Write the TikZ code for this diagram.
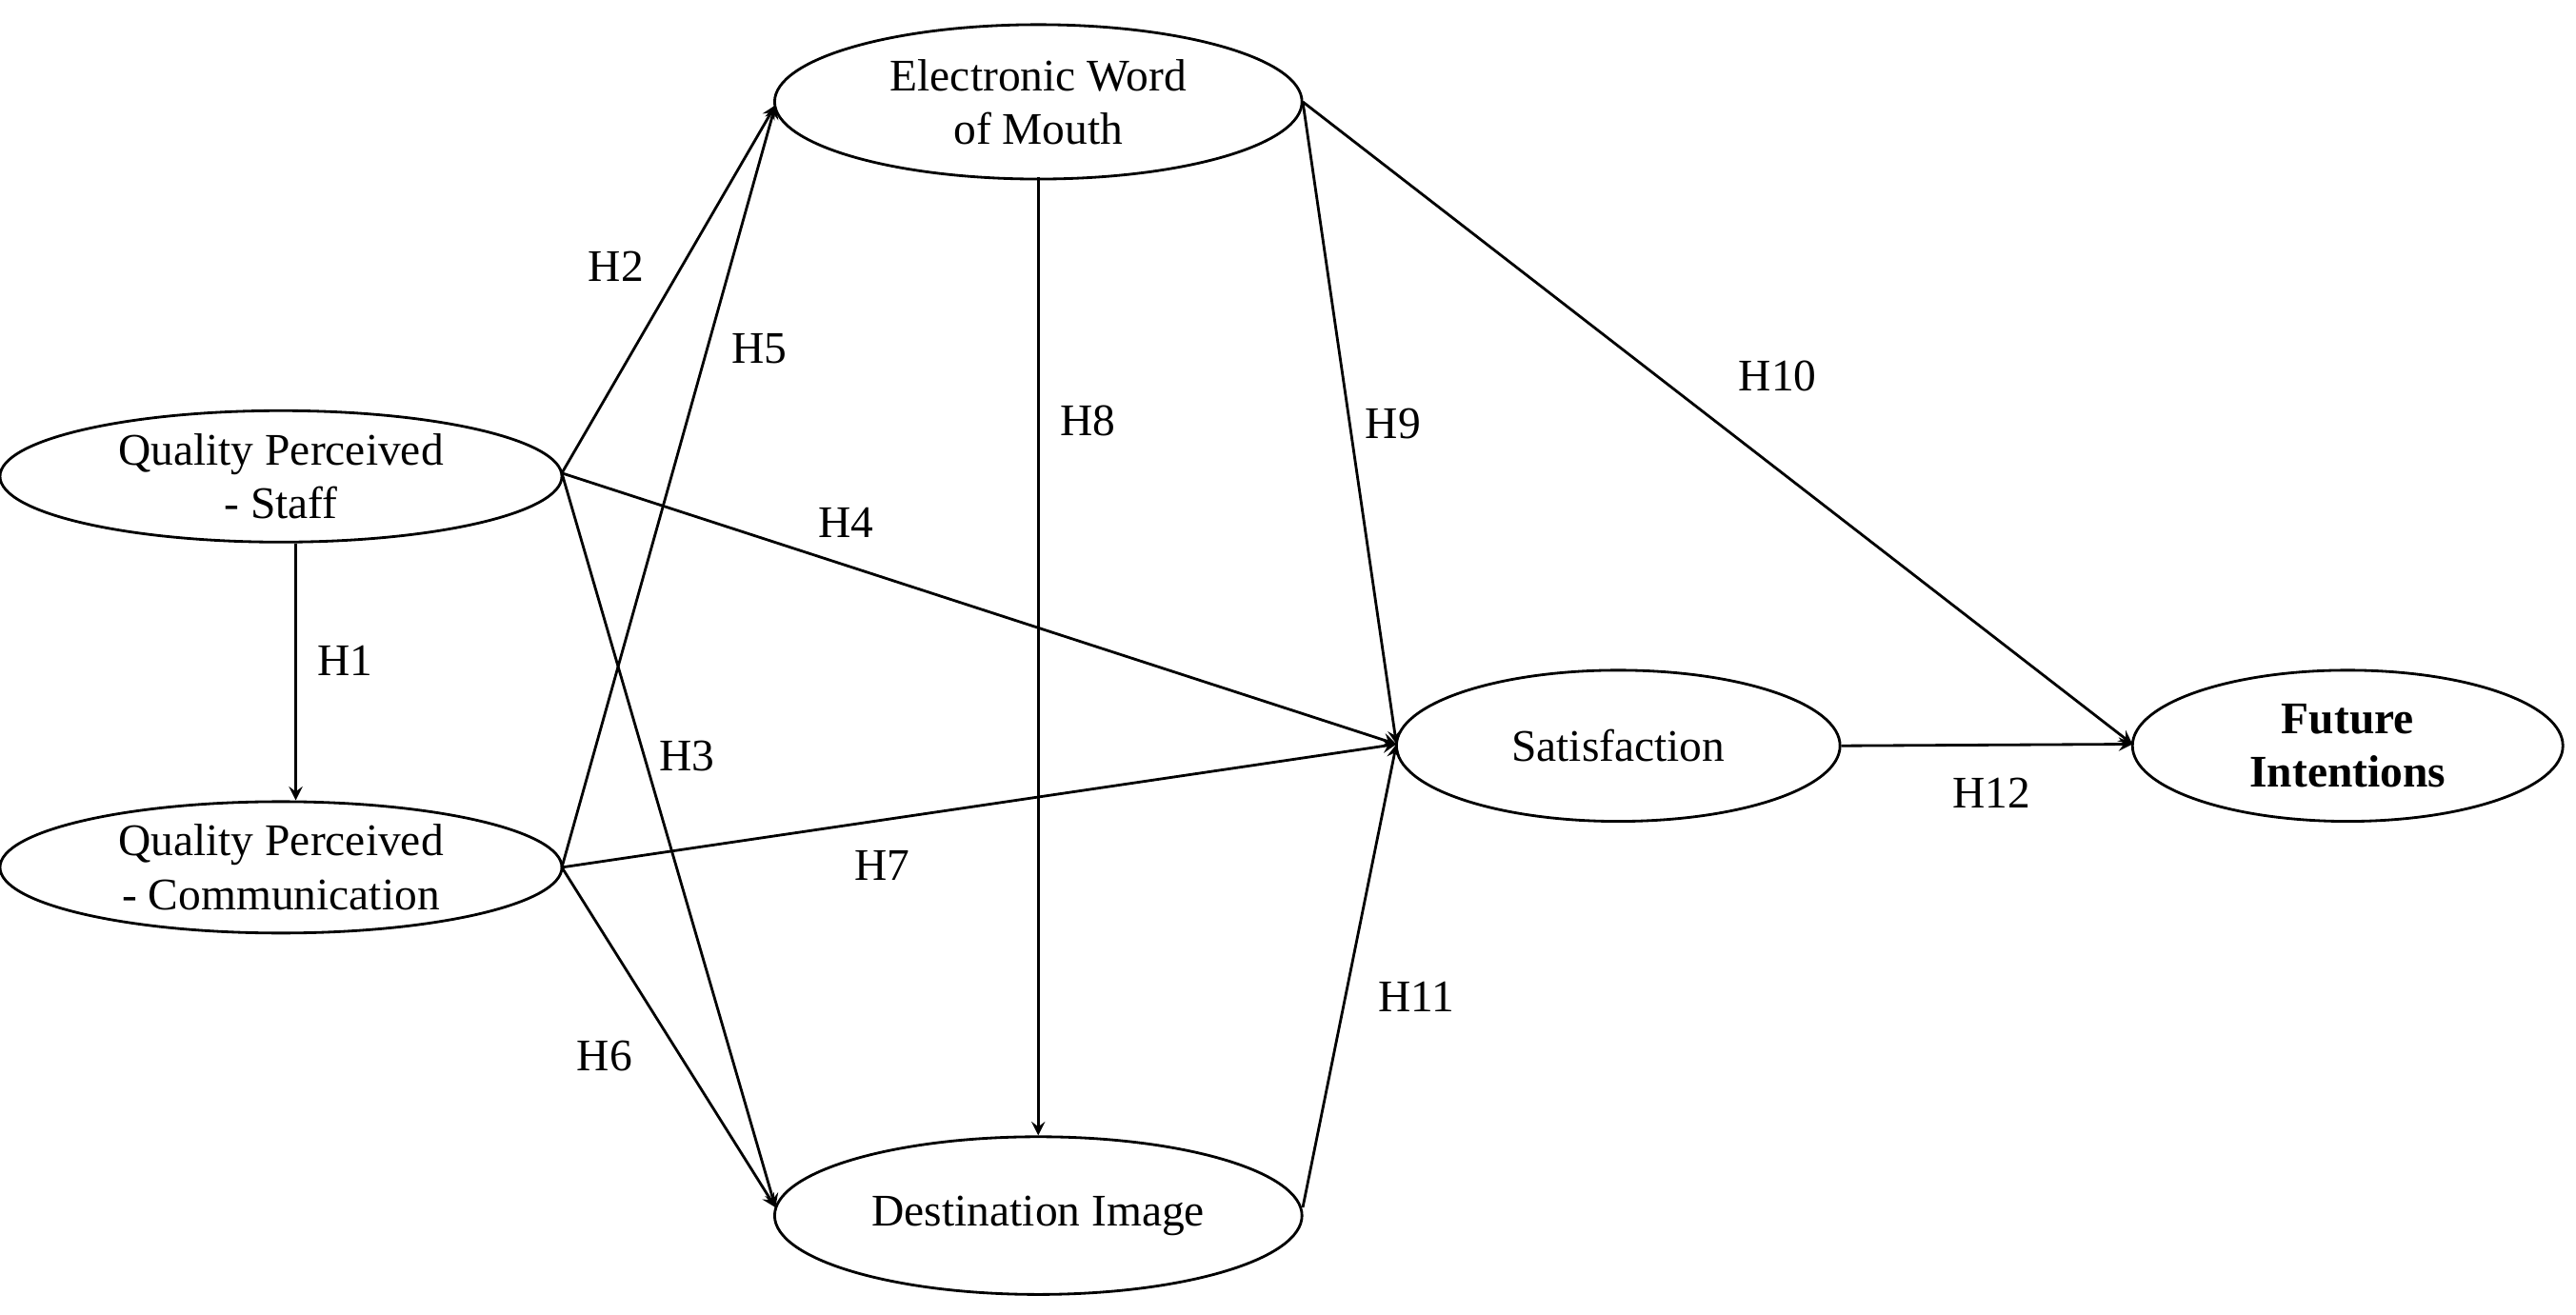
\documentclass[tikz,border=0pt]{standalone}
\usepackage{fontspec}
\setmainfont{Liberation Serif}
\usetikzlibrary{shapes.geometric}
\begin{document}
\begin{tikzpicture}[x=0.01725cm,y=-0.01725cm,
  every node/.style={font=\fontsize{13.5}{16}\selectfont},
  el/.style={draw,thick,ellipse,inner sep=0pt,align=center},
  ar/.style={->,thick,>=stealth},
  lab/.style={}]
\useasboundingbox (0,0) rectangle (1568,800);
\node[el,minimum width=342*0.01725cm,minimum height=80*0.01725cm] (qps) at (171,290) {Quality Perceived\\- Staff};
\node[el,minimum width=342*0.01725cm,minimum height=80*0.01725cm] (qpc) at (171,528) {Quality Perceived\\- Communication};
\node[el,minimum width=321*0.01725cm,minimum height=94*0.01725cm] (ew) at (632,62) {Electronic Word\\of Mouth};
\node[el,minimum width=321*0.01725cm,minimum height=96*0.01725cm] (di) at (632,740) {Destination Image};
\node[el,minimum width=270*0.01725cm,minimum height=92*0.01725cm] (sat) at (985,454) {Satisfaction};
\node[el,minimum width=262*0.01725cm,minimum height=92*0.01725cm,font=\fontsize{13.5}{16}\selectfont\bfseries] (fi) at (1429,454) {Future\\Intentions};
\coordinate (qpsE) at (342,288);
\coordinate (qpcE) at (342,528);
\coordinate (ewW) at (472,64);
\coordinate (diW) at (472,735);
\coordinate (satW) at (850,453);
\coordinate (ewE) at (793,62);
\coordinate (diE) at (793,735);
\coordinate (fiW) at (1298,453);
\draw[ar] (qpsE) -- (ewW);
\draw[ar] (qpsE) -- (diW);
\draw[ar] (qpsE) -- (satW);
\draw[ar] (qpcE) -- (ewW);
\draw[ar] (qpcE) -- (diW);
\draw[ar] (qpcE) -- (satW);
\draw[ar] (qps.south -| 180,0) -- (qpc.north -| 180,0);
\draw[ar] (632,108) -- (di.north -| 632,0);
\draw[ar] (ewE) -- (satW);
\draw[ar] (ewE) -- (fiW);
\draw[ar] (diE) -- (satW);
\draw[ar] (sat.east) -- (fiW);
\node (l2) at (375,162) {H2};
\node (l5) at (462,212) {H5};
\node (l8) at (662,256) {H8};
\node (l9) at (848,258) {H9};
\node (l10) at (1082,229) {H10};
\node (l4) at (515,318) {H4};
\node (l1) at (210,402) {H1};
\node (l3) at (418,460) {H3};
\node (l7) at (537,527) {H7};
\node (l6) at (368,643) {H6};
\node (l11) at (862,607) {H11};
\node (l12) at (1212,483) {H12};
\end{tikzpicture}
\end{document}
